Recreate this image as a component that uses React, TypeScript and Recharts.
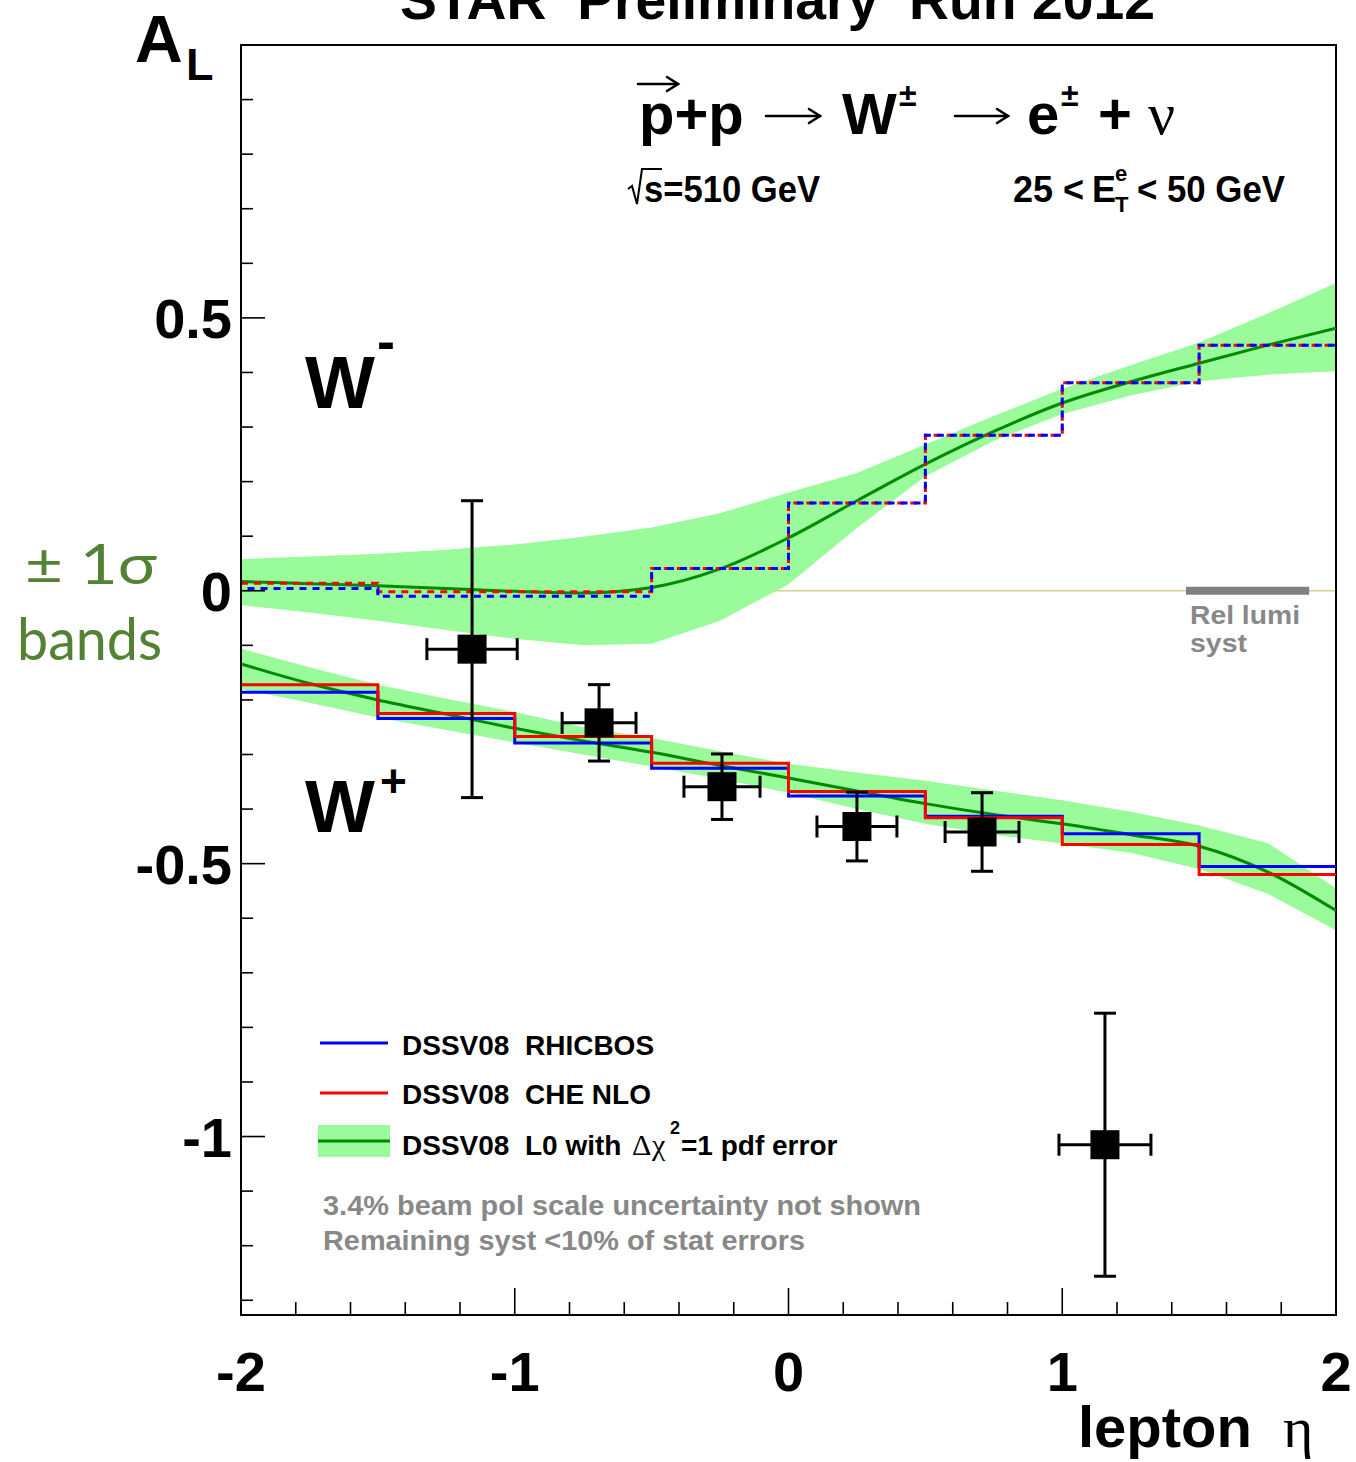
import React from 'react';
import {
  ComposedChart,
  XAxis,
  YAxis,
  Area,
  Line,
  Scatter,
  ErrorBar,
  ReferenceArea,
} from 'recharts';

// ---- plot ranges ----
const etaRange = [-2, 2];
const asymRange = [-1.327, 1.0];

// ---- axis ticks (major ticks carry labels) ----
const etaTicks = [-2, -1.8, -1.6, -1.4, -1.2, -1, -0.8, -0.6, -0.4, -0.2, 0, 0.2, 0.4, 0.6, 0.8, 1, 1.2, 1.4, 1.6, 1.8, 2];
const etaMajorTicks = [-2, -1, 0, 1, 2];
const asymTicks = [-1.3, -1.2, -1.1, -1, -0.9, -0.8, -0.7, -0.6, -0.5, -0.4, -0.3, -0.2, -0.1, 0, 0.1, 0.2, 0.3, 0.4, 0.5, 0.6, 0.7, 0.8, 0.9];
const asymMajorTicks = [-1, -0.5, 0, 0.5];

// ---- DSSV08 LO theory curves with pdf error bands ----
const bandEta = [-2, -1.75, -1.5, -1.25, -1, -0.75, -0.5, -0.25, 0, 0.25, 0.5, 0.75, 1, 1.25, 1.5, 1.75, 2];
const wMinusLow = [-0.026, -0.04, -0.055, -0.072, -0.088, -0.1, -0.097, -0.055, 0.012, 0.115, 0.21, 0.275, 0.324, 0.358, 0.384, 0.396, 0.402];
const wMinusHigh = [0.058, 0.063, 0.068, 0.075, 0.085, 0.099, 0.116, 0.142, 0.18, 0.216, 0.268, 0.32, 0.37, 0.413, 0.455, 0.508, 0.564];
const wMinusMid = [0.017, 0.013, 0.009, 0.004, -0.001, -0.004, 0.006, 0.04, 0.097, 0.165, 0.232, 0.292, 0.344, 0.383, 0.417, 0.45, 0.481];
const wPlusHigh = [-0.106, -0.14, -0.172, -0.198, -0.222, -0.25, -0.27, -0.294, -0.317, -0.333, -0.348, -0.366, -0.384, -0.405, -0.43, -0.462, -0.545];
const wPlusLow = [-0.18, -0.205, -0.232, -0.255, -0.278, -0.3, -0.322, -0.345, -0.37, -0.4, -0.427, -0.447, -0.463, -0.48, -0.51, -0.555, -0.622];
const wPlusMid = [-0.134, -0.17, -0.2, -0.226, -0.252, -0.275, -0.296, -0.32, -0.343, -0.367, -0.39, -0.41, -0.427, -0.447, -0.468, -0.515, -0.586];

// ---- binned predictions (bins of 0.5 in eta) ----
const binEdges = [-2, -1.5, -1, -0.5, 0, 0.5, 1, 1.5, 2];
const wMinusRhicbos = [0.004, -0.01, -0.01, 0.041, 0.161, 0.285, 0.381, 0.45];
const wMinusCheNlo = [0.014, -0.002, -0.002, 0.041, 0.161, 0.285, 0.381, 0.45];
const wPlusRhicbos = [-0.186, -0.234, -0.279, -0.325, -0.376, -0.413, -0.445, -0.505];
const wPlusCheNlo = [-0.172, -0.225, -0.267, -0.316, -0.368, -0.416, -0.465, -0.52];

// ---- STAR 2012 measured A_L ----
const dataEta = [-1.156, -0.692, -0.243, 0.25, 0.707, 1.156];
const dataAL = [-0.107, -0.242, -0.359, -0.432, -0.442, -1.015];
const dataEtaErr = [0.165, 0.135, 0.139, 0.146, 0.135, 0.168];
const dataALErr = [0.272, 0.07, 0.06, 0.063, 0.072, 0.241];

// ---- relative luminosity systematic (band around zero) ----
const relLumiEta = [1.452, 1.902];
const relLumiHalf = 0.0075;

// half thickness of the zero line, in asymmetry units
const zeroLineHalf = 0.0014;

const toBand = (lo: number[], hi: number[], mid: number[]) =>
  bandEta.map((eta, i) => ({ eta, lo: lo[i], hi: hi[i], mid: mid[i] }));
const toSteps = (vals: number[]) =>
  binEdges.map((eta, i) => ({ eta, v: vals[Math.min(i, vals.length - 1)] }));
const flatStrip = (etas: number[], half: number) => etas.map((eta) => ({ eta, lo: -half, hi: half }));

const wMinusBand = toBand(wMinusLow, wMinusHigh, wMinusMid);
const wPlusBand = toBand(wPlusLow, wPlusHigh, wPlusMid);
const zeroLine = flatStrip(etaRange, zeroLineHalf);
const relLumiBar = flatStrip(relLumiEta, relLumiHalf);
const points = dataEta.map((eta, i) => ({
  eta,
  al: dataAL[i],
  etaErr: dataEtaErr[i],
  alErr: dataALErr[i],
}));

const W = 1356;
const H = 1462;
const SANS = '"Liberation Sans", Helvetica, Arial, sans-serif';
const SERIF = '"Liberation Serif", "Times New Roman", serif';
const HUMANIST = 'Lato, "Open Sans", sans-serif';
const BAND_FILL = '#99fb99';
const CURVE = '#008a00';
const TICK_GAP = 10;

const near = (list: number[], v: number) => list.some((t) => Math.abs(t - v) < 1e-6);
const rangeKey = (d: any) => [d.lo, d.hi];

function EtaTick(props: any) {
  const { x, y, payload } = props;
  const v = payload.value as number;
  const axisY = y - TICK_GAP;
  const major = near(etaMajorTicks, v);
  return (
    <g>
      <line x1={x} x2={x} y1={axisY} y2={axisY - (major ? 27 : 13)} stroke="#000" strokeWidth={1.6} />
      {major && (
        <text x={x} y={axisY + 76} textAnchor="middle" fontFamily={SANS} fontWeight="bold" fontSize={56} fill="#000">
          {String(v)}
        </text>
      )}
    </g>
  );
}

function AsymTick(props: any) {
  const { x, y, payload } = props;
  const v = payload.value as number;
  const axisX = x + TICK_GAP;
  const major = near(asymMajorTicks, v);
  return (
    <g>
      <line x1={axisX} x2={axisX + (major ? 24 : 12)} y1={y} y2={y} stroke="#000" strokeWidth={1.6} />
      {major && (
        <text x={axisX - 9} y={y + 20} textAnchor="end" fontFamily={SANS} fontWeight="bold" fontSize={56} fill="#000">
          {String(v)}
        </text>
      )}
    </g>
  );
}

const SquareMarker = (props: any) => {
  const { cx, cy } = props;
  return <rect x={cx - 14.5} y={cy - 14.5} width={29} height={29} fill="#000" />;
};

function Arrow({ x1, x2, y }: { x1: number; x2: number; y: number }) {
  return (
    <g stroke="#000" strokeWidth={2.6} fill="none" strokeLinecap="round">
      <line x1={x1} y1={y} x2={x2} y2={y} />
      <polyline points={`${x2 - 11},${y - 7} ${x2},${y} ${x2 - 11},${y + 7}`} />
    </g>
  );
}

function Annotations() {
  const pre = { whiteSpace: 'pre' as const };
  return (
    <svg width={W} height={H} style={{ position: 'absolute', left: 0, top: 0, pointerEvents: 'none' }}>
      {/* title */}
      <text x={400} y={19} fontFamily={SANS} fontWeight="bold" fontSize={55} textLength={755} lengthAdjust="spacingAndGlyphs" style={pre}>
        {'STAR  Preliminary  Run 2012'}
      </text>

      {/* y-axis title */}
      <text x={135} y={62} fontFamily={SANS} fontWeight="bold" fontSize={66}>A</text>
      <text x={186} y={80} fontFamily={SANS} fontWeight="bold" fontSize={45}>L</text>

      {/* reaction */}
      <Arrow x1={638} x2={678} y={84} />
      <text x={639} y={134} fontFamily={SANS} fontWeight="bold" fontSize={58}>p+p</text>
      <Arrow x1={766} x2={820} y={116} />
      <text x={842} y={134} fontFamily={SANS} fontWeight="bold" fontSize={58}>W</text>
      <text x={899} y={106} fontFamily={SANS} fontWeight="bold" fontSize={32}>±</text>
      <Arrow x1={955} x2={1008} y={116} />
      <text x={1027} y={134} fontFamily={SANS} fontWeight="bold" fontSize={58}>e</text>
      <text x={1061} y={106} fontFamily={SANS} fontWeight="bold" fontSize={32}>±</text>
      <text x={1098} y={134} fontFamily={SANS} fontWeight="bold" fontSize={58}>+</text>
      <text x={1148} y={134} fontFamily={SERIF} fontSize={60}>ν</text>

      {/* sqrt(s) */}
      <path d="M628,189 L632,186 L637,204 L642,169 L662,169" stroke="#000" strokeWidth={2} fill="none" />
      <text x={644} y={202} fontFamily={SANS} fontWeight="bold" fontSize={36} textLength={176} lengthAdjust="spacingAndGlyphs">
        s=510 GeV
      </text>

      {/* E_T cut */}
      <text x={1013} y={202} fontFamily={SANS} fontWeight="bold" fontSize={36} style={pre}>{'25 <'}</text>
      <text x={1092} y={202} fontFamily={SANS} fontWeight="bold" fontSize={36}>E</text>
      <text x={1115} y={181} fontFamily={SANS} fontWeight="bold" fontSize={22}>e</text>
      <text x={1115} y={212} fontFamily={SANS} fontWeight="bold" fontSize={22}>T</text>
      <text x={1137} y={202} fontFamily={SANS} fontWeight="bold" fontSize={36} textLength={148} lengthAdjust="spacingAndGlyphs" style={pre}>{'< 50 GeV'}</text>

      {/* W labels */}
      <text x={305} y={408} fontFamily={SANS} fontWeight="bold" fontSize={74}>W</text>
      <text x={377} y={360} fontFamily={SANS} fontWeight="bold" fontSize={54}>-</text>
      <text x={305} y={832} fontFamily={SANS} fontWeight="bold" fontSize={74}>W</text>
      <text x={380} y={797} fontFamily={SANS} fontWeight="bold" fontSize={46}>+</text>

      {/* band annotation */}
      <text x={25} y={584} fontFamily={HUMANIST} fontSize={56} fill="#548235" textLength={132} lengthAdjust="spacingAndGlyphs" style={pre}>
        {'± 1σ'}
      </text>
      <text x={17} y={660} fontFamily={HUMANIST} fontSize={58} fill="#548235" textLength={145} lengthAdjust="spacingAndGlyphs">
        bands
      </text>

      {/* rel lumi label */}
      <text x={1190} y={624} fontFamily={SANS} fontWeight="bold" fontSize={25} fill="#888" textLength={110} lengthAdjust="spacingAndGlyphs">Rel lumi</text>
      <text x={1190} y={652} fontFamily={SANS} fontWeight="bold" fontSize={25} fill="#888" textLength={57} lengthAdjust="spacingAndGlyphs">syst</text>

      {/* legend */}
      <line x1={320} x2={388} y1={1043} y2={1043} stroke="#0000ff" strokeWidth={3} />
      <text x={402} y={1055} fontFamily={SANS} fontWeight="bold" fontSize={28} style={pre}>{'DSSV08  RHICBOS'}</text>
      <line x1={320} x2={388} y1={1093} y2={1093} stroke="#ff0000" strokeWidth={3} />
      <text x={402} y={1104} fontFamily={SANS} fontWeight="bold" fontSize={28} style={pre}>{'DSSV08  CHE NLO'}</text>
      <rect x={318} y={1125} width={72} height={32} fill={BAND_FILL} />
      <line x1={318} x2={390} y1={1141} y2={1141} stroke={CURVE} strokeWidth={3} />
      <text x={402} y={1155} fontFamily={SANS} fontWeight="bold" fontSize={28} style={pre}>{'DSSV08  L0 with '}</text>
      <text x={632} y={1155} fontFamily={SERIF} fontSize={30}>Δ</text>
      <text x={652} y={1155} fontFamily={SERIF} fontSize={30}>χ</text>
      <text x={670} y={1134} fontFamily={SANS} fontWeight="bold" fontSize={18}>2</text>
      <text x={681} y={1155} fontFamily={SANS} fontWeight="bold" fontSize={28}>=1 pdf error</text>

      <text x={323} y={1215} fontFamily={SANS} fontWeight="bold" fontSize={28} fill="#888" textLength={598} lengthAdjust="spacingAndGlyphs">
        3.4% beam pol scale uncertainty not shown
      </text>
      <text x={323} y={1250} fontFamily={SANS} fontWeight="bold" fontSize={28} fill="#888" textLength={482} lengthAdjust="spacingAndGlyphs">
        Remaining syst &lt;10% of stat errors
      </text>

      {/* x-axis title */}
      <text x={1078} y={1447} fontFamily={SANS} fontWeight="bold" fontSize={58}>lepton</text>
      <text x={1283} y={1447} fontFamily={SERIF} fontSize={58}>η</text>
    </svg>
  );
}

export default function App() {
  return (
    <div style={{ position: 'absolute', left: 0, top: 0, width: W, height: H, background: '#fff' }}>
      <ComposedChart width={W} height={H} margin={{ top: 45, right: 20, bottom: 0, left: 0 }}>
        <XAxis
          type="number"
          dataKey="eta"
          domain={etaRange}
          allowDataOverflow
          ticks={etaTicks}
          interval={0}
          tickSize={0}
          tickMargin={TICK_GAP}
          height={147}
          axisLine={{ stroke: '#000', strokeWidth: 2 }}
          tick={<EtaTick />}
        />
        <YAxis
          type="number"
          dataKey="al"
          domain={asymRange}
          allowDataOverflow
          ticks={asymTicks}
          interval={0}
          tickSize={0}
          tickMargin={TICK_GAP}
          width={241}
          axisLine={{ stroke: '#000', strokeWidth: 2 }}
          tick={<AsymTick />}
        />

        {/* zero line sits underneath the theory bands */}
        <Area data={zeroLine} dataKey={rangeKey} type="linear" fill="#d8cf8f" fillOpacity={1} stroke="none" isAnimationActive={false} />

        <Area data={wMinusBand} dataKey={rangeKey} type="linear" fill={BAND_FILL} fillOpacity={1} stroke="none" isAnimationActive={false} />
        <Area data={wPlusBand} dataKey={rangeKey} type="linear" fill={BAND_FILL} fillOpacity={1} stroke="none" isAnimationActive={false} />

        <Area data={relLumiBar} dataKey={rangeKey} type="linear" fill="#808080" fillOpacity={1} stroke="none" isAnimationActive={false} />

        <Line data={wMinusBand} dataKey="mid" type="monotone" stroke={CURVE} strokeWidth={3} dot={false} isAnimationActive={false} />
        <Line data={wPlusBand} dataKey="mid" type="monotone" stroke={CURVE} strokeWidth={3} dot={false} isAnimationActive={false} />

        <Line data={toSteps(wPlusRhicbos)} dataKey="v" type="stepAfter" stroke="#0000ff" strokeWidth={3} dot={false} isAnimationActive={false} />
        <Line data={toSteps(wPlusCheNlo)} dataKey="v" type="stepAfter" stroke="#ff0000" strokeWidth={3} dot={false} isAnimationActive={false} />
        <Line
          data={toSteps(wMinusCheNlo)}
          dataKey="v"
          type="stepAfter"
          stroke="#ff0000"
          strokeWidth={3}
          strokeDasharray="7 6"
          dot={false}
          isAnimationActive={false}
        />
        <Line
          data={toSteps(wMinusRhicbos)}
          dataKey="v"
          type="stepAfter"
          stroke="#0000ff"
          strokeWidth={3}
          strokeDasharray="7 6"
          strokeDashoffset={6.5}
          dot={false}
          isAnimationActive={false}
        />

        <Scatter data={points} dataKey="al" shape={<SquareMarker />} isAnimationActive={false}>
          <ErrorBar dataKey="etaErr" direction="x" width={11} stroke="#000" strokeWidth={3} />
          <ErrorBar dataKey="alErr" direction="y" width={11} stroke="#000" strokeWidth={3} />
        </Scatter>

        <ReferenceArea
          x1={etaRange[0]}
          x2={etaRange[1]}
          y1={asymRange[0]}
          y2={asymRange[1]}
          fill="none"
          stroke="#000"
          strokeWidth={2}
        />
      </ComposedChart>
      <Annotations />
    </div>
  );
}
